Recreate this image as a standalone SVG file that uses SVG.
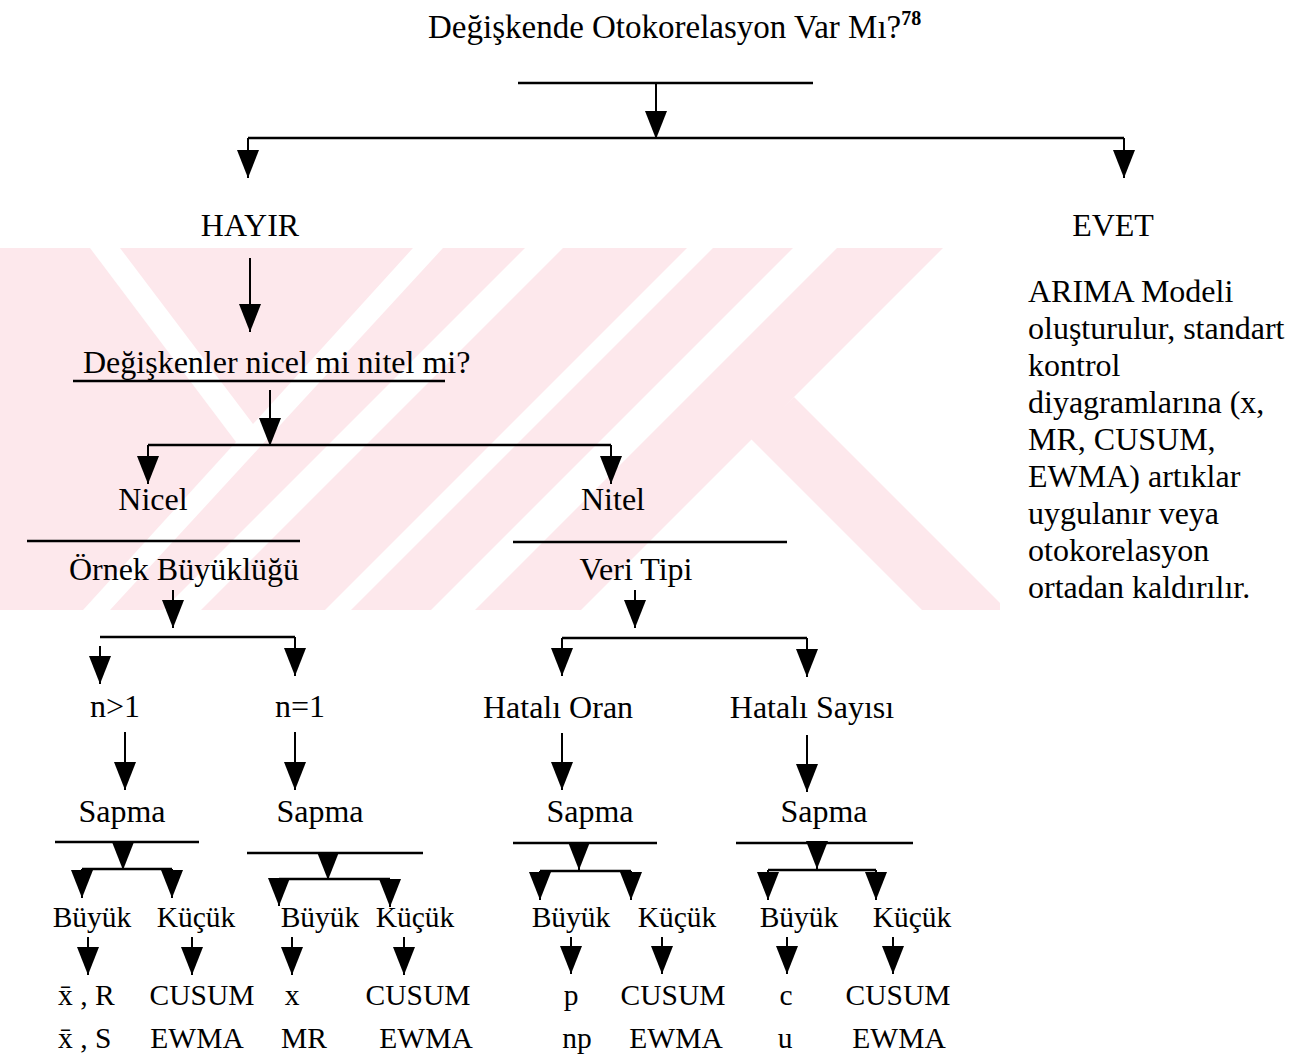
<svg xmlns="http://www.w3.org/2000/svg" width="1294" height="1055" viewBox="0 0 1294 1055">
<style>
.t{font-family:"Liberation Serif","Times New Roman",serif;font-size:32px;fill:#000}
.s{font-size:29.5px}
.m{text-anchor:middle}
.ln{stroke:#000;stroke-width:2.5;fill:none}
.ar{stroke:#000;stroke-width:2;fill:none;marker-end:url(#ah)}
.wm{fill:#fde8ec;stroke:none}
</style>
<defs>
<marker id="ah" viewBox="0 0 28 22" refX="28" refY="11" markerWidth="28" markerHeight="22" markerUnits="userSpaceOnUse" orient="auto">
<path d="M0,0 L28,11 L0,22 Z" fill="#000"/>
</marker>
</defs>
<rect width="1294" height="1055" fill="#fff"/>
<g id="watermark">
<polygon class="wm" points="0,248 90,248 236,442 83,610 0,610"/>
<polygon class="wm" points="120,248 413,248 253,424"/>
<polygon class="wm" points="443,248 525,248 163,610 110,610"/>
<polygon class="wm" points="563,248 687,248 325,610 201,610"/>
<polygon class="wm" points="713,248 793,248 431,610 351,610"/>
<polygon class="wm" points="837,248 943,248 581,610 475,610"/>
<polygon class="wm" points="794,397 1000,603 1000,610 922,610 750,438"/>
</g>
<g id="connectors">
<line class="ln" x1="518" y1="83" x2="813" y2="83"/>
<line class="ar" x1="656" y1="83" x2="656" y2="139"/>
<line class="ln" x1="248" y1="138" x2="1124" y2="138"/>
<line class="ar" x1="248" y1="138" x2="248" y2="178"/>
<line class="ar" x1="1124" y1="138" x2="1124" y2="178"/>
<line class="ar" x1="250" y1="258" x2="250" y2="332"/>
<line class="ln" x1="73" y1="381" x2="445" y2="381"/>
<line class="ar" x1="270" y1="390" x2="270" y2="446"/>
<line class="ln" x1="148" y1="445" x2="611" y2="445"/>
<line class="ar" x1="148" y1="445" x2="148" y2="484"/>
<line class="ar" x1="611" y1="445" x2="611" y2="484"/>
<line class="ln" x1="27" y1="541" x2="300" y2="541"/>
<line class="ln" x1="513" y1="542" x2="787" y2="542"/>
<line class="ar" x1="173" y1="590" x2="173" y2="628"/>
<line class="ar" x1="635" y1="590" x2="635" y2="628"/>
<line class="ln" x1="100" y1="637" x2="295" y2="637"/>
<line class="ar" x1="100" y1="646" x2="100" y2="684"/>
<line class="ar" x1="295" y1="637" x2="295" y2="676"/>
<line class="ln" x1="562" y1="638" x2="807" y2="638"/>
<line class="ar" x1="562" y1="638" x2="562" y2="676"/>
<line class="ar" x1="807" y1="638" x2="807" y2="677"/>
<line class="ar" x1="125" y1="732" x2="125" y2="790"/>
<line class="ar" x1="295" y1="732" x2="295" y2="790"/>
<line class="ar" x1="562" y1="733" x2="562" y2="790"/>
<line class="ar" x1="807" y1="735" x2="807" y2="792"/>
<line class="ln" x1="55" y1="842" x2="199" y2="842"/>
<line class="ar" x1="123" y1="842" x2="123" y2="870"/>
<line class="ln" x1="82" y1="869" x2="172" y2="869"/>
<line class="ar" x1="82" y1="869" x2="82" y2="898"/>
<line class="ar" x1="172" y1="869" x2="172" y2="898"/>
<line class="ln" x1="247" y1="853" x2="423" y2="853"/>
<line class="ar" x1="328" y1="853" x2="328" y2="880"/>
<line class="ln" x1="279" y1="879" x2="390" y2="879"/>
<line class="ar" x1="279" y1="879" x2="279" y2="906"/>
<line class="ar" x1="390" y1="879" x2="390" y2="907"/>
<line class="ln" x1="513" y1="843" x2="657" y2="843"/>
<line class="ar" x1="579" y1="843" x2="579" y2="870"/>
<line class="ln" x1="540" y1="871" x2="631" y2="871"/>
<line class="ar" x1="540" y1="871" x2="540" y2="900"/>
<line class="ar" x1="631" y1="871" x2="631" y2="900"/>
<line class="ln" x1="736" y1="843" x2="913" y2="843"/>
<line class="ar" x1="817" y1="843" x2="817" y2="869"/>
<line class="ln" x1="768" y1="870" x2="876" y2="870"/>
<line class="ar" x1="768" y1="870" x2="768" y2="900"/>
<line class="ar" x1="876" y1="870" x2="876" y2="900"/>
<line class="ar" x1="88" y1="937" x2="88" y2="975"/>
<line class="ar" x1="192" y1="937" x2="192" y2="975"/>
<line class="ar" x1="292" y1="937" x2="292" y2="975"/>
<line class="ar" x1="404" y1="937" x2="404" y2="975"/>
<line class="ar" x1="571" y1="937" x2="571" y2="974"/>
<line class="ar" x1="662" y1="937" x2="662" y2="974"/>
<line class="ar" x1="787" y1="937" x2="787" y2="974"/>
<line class="ar" x1="893" y1="937" x2="893" y2="974"/>
</g>
<g id="title"><text class="t" x="428" y="38" style="font-size:33px">Değişkende Otokorelasyon Var Mı?<tspan dy="-13" style="font-size:20px;font-weight:bold">78</tspan></text></g>
<g id="hayir"><text class="t m" x="250" y="236">HAYIR</text></g>
<g id="evet"><text class="t m" x="1113" y="236">EVET</text></g>
<g id="arima"><text class="t" x="1028" y="302">
<tspan x="1028" y="302">ARIMA Modeli</tspan>
<tspan x="1028" y="339">oluşturulur, standart</tspan>
<tspan x="1028" y="376">kontrol</tspan>
<tspan x="1028" y="413">diyagramlarına (x,</tspan>
<tspan x="1028" y="450">MR, CUSUM,</tspan>
<tspan x="1028" y="487">EWMA) artıklar</tspan>
<tspan x="1028" y="524">uygulanır veya</tspan>
<tspan x="1028" y="561">otokorelasyon</tspan>
<tspan x="1028" y="598">ortadan kaldırılır.</tspan>
</text></g>
<g id="degiskenler"><text class="t" x="83" y="373">Değişkenler nicel mi nitel mi?</text></g>
<g id="nicel"><text class="t m" x="153" y="510">Nicel</text></g>
<g id="nitel"><text class="t m" x="613" y="510">Nitel</text></g>
<g id="ornek"><text class="t m" x="184" y="580">Örnek Büyüklüğü</text></g>
<g id="veri"><text class="t m" x="636" y="580">Veri Tipi</text></g>
<g id="n_gt1"><text class="t m" x="115" y="717">n&gt;1</text></g>
<g id="n_eq1"><text class="t m" x="300" y="717">n=1</text></g>
<g id="hatali_oran"><text class="t m" x="558" y="718">Hatalı Oran</text></g>
<g id="hatali_sayisi"><text class="t m" x="812" y="718">Hatalı Sayısı</text></g>
<g id="sapma1"><text class="t m" x="122" y="822">Sapma</text></g>
<g id="sapma2"><text class="t m" x="320" y="822">Sapma</text></g>
<g id="sapma3"><text class="t m" x="590" y="822">Sapma</text></g>
<g id="sapma4"><text class="t m" x="824" y="822">Sapma</text></g>
<g id="buyuk1"><text class="t s m" x="92" y="927">Büyük</text></g>
<g id="kucuk1"><text class="t s m" x="196" y="927">Küçük</text></g>
<g id="buyuk2"><text class="t s m" x="320" y="927">Büyük</text></g>
<g id="kucuk2"><text class="t s m" x="415" y="927">Küçük</text></g>
<g id="buyuk3"><text class="t s m" x="571" y="927">Büyük</text></g>
<g id="kucuk3"><text class="t s m" x="677" y="927">Küçük</text></g>
<g id="buyuk4"><text class="t s m" x="799" y="927">Büyük</text></g>
<g id="kucuk4"><text class="t s m" x="912" y="927">Küçük</text></g>
<g id="res1"><text class="t s" x="58" y="1005">x̄ , R</text><text class="t s" x="58" y="1048">x̄ , S</text></g>
<g id="res2"><text class="t s m" x="202" y="1005">CUSUM</text><text class="t s m" x="197" y="1048">EWMA</text></g>
<g id="res3"><text class="t s m" x="292" y="1005">x</text><text class="t s m" x="304" y="1048">MR</text></g>
<g id="res4"><text class="t s m" x="418" y="1005">CUSUM</text><text class="t s m" x="426" y="1048">EWMA</text></g>
<g id="res5"><text class="t s m" x="571" y="1005">p</text><text class="t s m" x="577" y="1048">np</text></g>
<g id="res6"><text class="t s m" x="673" y="1005">CUSUM</text><text class="t s m" x="676" y="1048">EWMA</text></g>
<g id="res7"><text class="t s m" x="786" y="1005">c</text><text class="t s m" x="785" y="1048">u</text></g>
<g id="res8"><text class="t s m" x="898" y="1005">CUSUM</text><text class="t s m" x="899" y="1048">EWMA</text></g>
</svg>
